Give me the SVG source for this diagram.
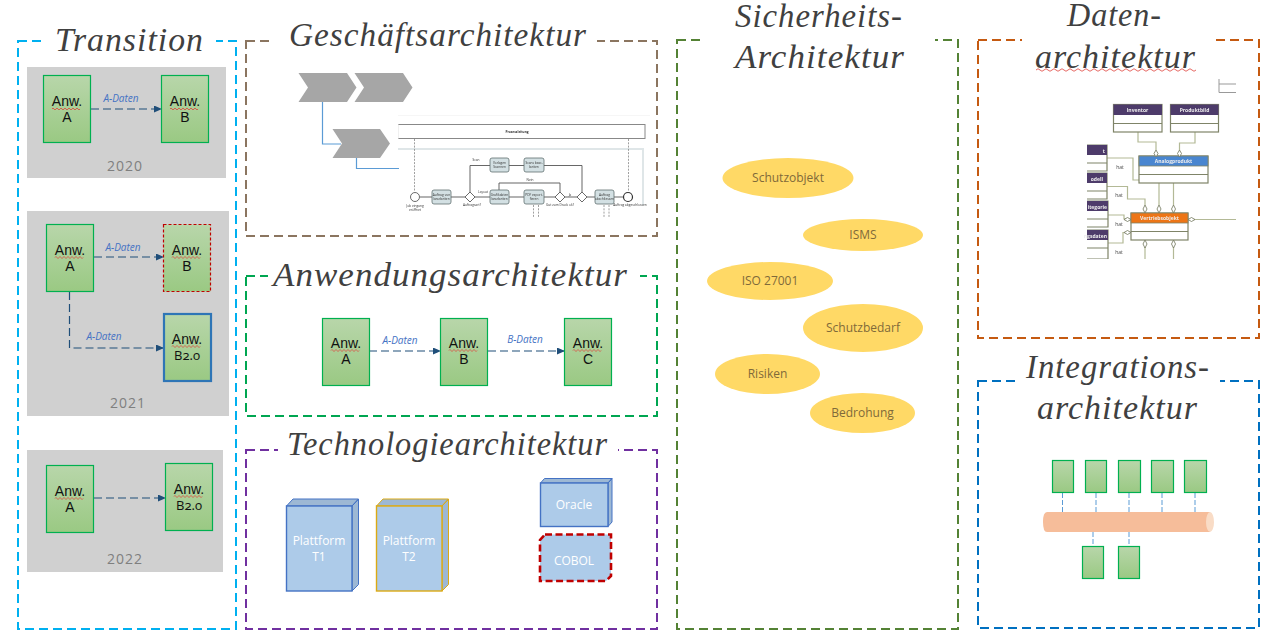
<svg xmlns="http://www.w3.org/2000/svg" width="1282" height="641" viewBox="0 0 1282 641">
<style>
.t{font-family:"Liberation Serif",serif;font-style:italic;font-size:33px;fill:#404040;letter-spacing:1px}
.f{fill:none;stroke-width:2;stroke-dasharray:9 5}
.g{fill:#d0d0d0}
.a{fill:url(#gr);stroke:#00b050;stroke-width:1.2}
.n{font-family:"Liberation Sans",Arial,sans-serif;font-size:14px;fill:#111;text-anchor:middle}
.o{font-family:"Open Sans",sans-serif;font-size:13px;fill:#111;text-anchor:middle;font-feature-settings:"onum"}
.y{font-family:"Open Sans",sans-serif;font-size:14px;fill:#7f7f7f;text-anchor:middle;letter-spacing:1px}
.l{font-family:"Open Sans",sans-serif;font-size:10px;font-style:italic;fill:#4472c4;text-anchor:middle}
.c{fill:none;stroke:#1f4e79;stroke-width:1.2;stroke-dasharray:8 4}
.w{fill:none;stroke:#e0403a;stroke-width:.8}
.e{fill:#ffd966}
.et{font-family:"Open Sans",sans-serif;font-size:12px;fill:#7f6a3a;text-anchor:middle}
.p{fill:#adcbe9;stroke:#4472c4;stroke-width:1.4}
.p2{fill:#adcbe9;stroke:#dcaa14;stroke-width:1.4}
.ps{fill:#9db8d4;stroke:#4472c4;stroke-width:1}
.ps2{fill:#9db8d4;stroke:#dcaa14;stroke-width:1}
.pt{font-family:"Open Sans",sans-serif;font-size:12px;fill:#fff;text-anchor:middle}
.ch{fill:#a6a6a6}
.bl{fill:none;stroke:#5b9bd5;stroke-width:1.2}
.pr{fill:none;stroke:#555;stroke-width:.9}
.ta{fill:#d3e0e3;stroke:#607070;stroke-width:.8}
.tx{font-family:"Open Sans",sans-serif;font-size:3.2px;fill:#333;text-anchor:middle}
.d{fill:none;stroke:#777;stroke-width:.7;stroke-dasharray:2 1.3}
.gw{fill:#fff;stroke:#444;stroke-width:.8}
.tb{fill:#fff;stroke:#7f8468;stroke-width:1.2}
.cn{fill:none;stroke:#b3b996;stroke-width:1.2}
.di{fill:#fff;stroke:#6f7459;stroke-width:.8}
.ht{font-family:"Open Sans",sans-serif;font-size:5px;fill:#444;text-anchor:middle}
.hw{font-family:"Open Sans",sans-serif;font-size:5px;font-weight:bold;fill:#eee;text-anchor:middle}
.hd{fill:#4e3b6b}
.ib{stroke:#5b9bd5;stroke-width:1;stroke-dasharray:5 2;fill:none}
</style>
<defs>
<linearGradient id="gr" x1="0" y1="0" x2="0" y2="1"><stop offset="0" stop-color="#b8d6aa"/><stop offset="1" stop-color="#9ac983"/></linearGradient>
<marker id="ar" markerWidth="8" markerHeight="8" refX="7" refY="3.5" orient="auto" markerUnits="userSpaceOnUse"><path d="M0 0L8 3.5L0 7z" fill="#1f4e79"/></marker>
<path id="sq" class="w" d="M0 0q1 -2 2 0t2 0t2 0t2 0t2 0t2 0t2 0t2 0t2 0t2 0t2 0t2 0t2 0t2 0"/>
<filter id="bl" x="0" y="0" width="1" height="1"><feGaussianBlur stdDeviation="0.25"/></filter>
</defs>
<rect width="1282" height="641" fill="#fff"/>

<g id="frames">
<rect class="f" x="18" y="41" width="218" height="588" stroke="#00b0f0"/>
<rect class="f" x="246" y="41" width="411" height="195" stroke="#8b7560"/>
<rect class="f" x="246" y="276" width="411" height="140" stroke="#00a651"/>
<rect class="f" x="246" y="450" width="411" height="179" stroke="#7030a0"/>
<rect class="f" x="677" y="40" width="281" height="589" stroke="#548235"/>
<rect class="f" x="978" y="40" width="281" height="298" stroke="#c55a11"/>
<rect class="f" x="978" y="381" width="281" height="247" stroke="#0070c0"/>
<g fill="#fff">
<rect x="44" y="36" width="172" height="10"/><rect x="272" y="36" width="325" height="10"/><rect x="268" y="271" width="372" height="10"/><rect x="278" y="445" width="340" height="10"/><rect x="705" y="35" width="230" height="10"/><rect x="1022" y="35" width="190" height="10"/><rect x="1015" y="376" width="205" height="10"/>
</g>
</g>

<g id="titles">
<text class="t" x="55" y="51" textLength="149" lengthAdjust="spacingAndGlyphs">Transition</text>
<text class="t" x="289" y="46" textLength="298" lengthAdjust="spacingAndGlyphs">Geschäftsarchitektur</text>
<text class="t" x="273" y="286" textLength="355" lengthAdjust="spacingAndGlyphs">Anwendungsarchitektur</text>
<text class="t" x="287" y="455" textLength="321" lengthAdjust="spacingAndGlyphs">Technologiearchitektur</text>
<text class="t" x="735" y="27" textLength="168" lengthAdjust="spacingAndGlyphs">Sicherheits-</text>
<text class="t" x="735" y="68" textLength="170" lengthAdjust="spacingAndGlyphs">Architektur</text>
<text class="t" x="1067" y="26" textLength="95" lengthAdjust="spacingAndGlyphs">Daten-</text>
<text class="t" x="1035" y="68" textLength="161" lengthAdjust="spacingAndGlyphs">architektur</text>
<path class="w" d="M1036 70q2 -2.5 4 0t4 0t4 0t4 0t4 0t4 0t4 0t4 0t4 0t4 0t4 0t4 0t4 0t4 0t4 0t4 0t4 0t4 0t4 0t4 0t4 0t4 0t4 0t4 0t4 0t4 0t4 0t4 0t4 0t4 0t4 0t4 0t4 0t4 0t4 0t4 0t4 0t4 0t4 0t4 0"/>
<text class="t" x="1026" y="378" textLength="184" lengthAdjust="spacingAndGlyphs">Integrations-</text>
<text class="t" x="1037" y="419" textLength="161" lengthAdjust="spacingAndGlyphs">architektur</text>
</g>

<g id="panels">
<rect class="g" x="27" y="67" width="199" height="111"/>
<rect class="g" x="27" y="211" width="202" height="205"/>
<rect class="g" x="27" y="450" width="196" height="122"/>
<text class="y" x="125" y="171">2020</text>
<text class="y" x="128" y="408">2021</text>
<text class="y" x="125" y="564">2022</text>
</g>

<g id="connectors">
<path class="c" marker-end="url(#ar)" d="M91 109H161"/>
<path class="c" marker-end="url(#ar)" d="M94 257H163"/>
<path class="c" marker-end="url(#ar)" d="M69.500 292V348H163"/>
<path class="c" marker-end="url(#ar)" d="M94 498H165"/>
<path class="c" marker-end="url(#ar)" d="M369 351H440"/>
<path class="c" marker-end="url(#ar)" d="M488 351H564"/>
<text class="l" x="121" y="102">A-Daten</text>
<text class="l" x="123" y="251">A-Daten</text>
<text class="l" x="104" y="340">A-Daten</text>
<text class="l" x="400" y="344">A-Daten</text>
<text class="l" x="525" y="343">B-Daten</text>
</g>

<g id="t2020a"><rect class="a" x="43.500" y="75.500" width="47" height="67"/><text class="n" x="67" y="106">Anw.</text><use href="#sq" x="52" y="109"/><text class="n" x="67" y="122">A</text></g>
<g id="t2020b"><rect class="a" x="161.500" y="75.500" width="47" height="67"/><text class="n" x="185" y="106">Anw.</text><use href="#sq" x="170" y="109"/><text class="n" x="185" y="122">B</text></g>
<g id="t2021a"><rect class="a" x="46.500" y="224.500" width="47" height="67"/><text class="n" x="70" y="255">Anw.</text><use href="#sq" x="55" y="257.500"/><text class="n" x="70" y="271">A</text></g>
<g id="t2021b"><rect class="a" x="163.500" y="224.500" width="47" height="67" style="stroke:#c00000;stroke-dasharray:3 2"/><text class="n" x="187" y="255">Anw.</text><use href="#sq" x="172" y="257.500"/><text class="n" x="187" y="271">B</text></g>
<g id="t2021c"><rect class="a" x="164" y="314" width="47" height="67" style="stroke:#2e75b6;stroke-width:2.200"/><text class="n" x="187" y="344">Anw.</text><use href="#sq" x="172" y="346.500"/><text class="o" x="187" y="360">B2.0</text></g>
<g id="t2022a"><rect class="a" x="46.500" y="465.500" width="47" height="67"/><text class="n" x="70" y="496">Anw.</text><use href="#sq" x="55" y="498.500"/><text class="n" x="70" y="512">A</text></g>
<g id="t2022b"><rect class="a" x="165.500" y="463.500" width="47" height="67"/><text class="n" x="189" y="494">Anw.</text><use href="#sq" x="174" y="496.500"/><text class="o" x="189" y="510">B2.0</text></g>

<g id="appA"><rect class="a" x="322.500" y="318.500" width="47" height="67"/><text class="n" x="346" y="348">Anw.</text><use href="#sq" x="331" y="350.500"/><text class="n" x="346" y="364">A</text></g>
<g id="appB"><rect class="a" x="440.500" y="318.500" width="47" height="67"/><text class="n" x="464" y="348">Anw.</text><use href="#sq" x="449" y="350.500"/><text class="n" x="464" y="364">B</text></g>
<g id="appC"><rect class="a" x="564.500" y="318.500" width="47" height="67"/><text class="n" x="588" y="348">Anw.</text><use href="#sq" x="573" y="350.500"/><text class="n" x="588" y="364">C</text></g>

<g id="business">
<path class="bl" d="M322.500 102V144H341"/>
<path class="bl" d="M356.500 158V168.500H399"/>
<path class="ch" d="M298.500 73H347L356.500 87.500L347 102H298.500L308 87.500z"/>
<path class="ch" d="M354.500 73H403L412.500 87.500L403 102H354.500L364 87.500z"/>
<path class="ch" d="M332.500 129H380L390 143.500L380 158H332.500L342 143.500z"/>
</g>

<g id="process" filter="url(#bl)">
<path d="M398 115H650" stroke="#eee" fill="none"/>
<rect x="398" y="124.500" width="247" height="14" fill="#fff" stroke="#888" stroke-width="1"/>
<path d="M398 124.500V138.500" stroke="#fff" stroke-width="1.500"/>
<text class="tx" x="517" y="133" style="font-weight:bold">Prozessleitung</text>
<path d="M398 149H643V205" fill="none" stroke="#dfe6e8" stroke-width="2"/>
<path class="d" d="M414.500 139V191M628.500 139V191M533.500 205V218M538.500 205V218M604 205V218M609 205V218"/>
<path class="pr" d="M420 197H432M451 197H465M475 197H490M509 197H524M544 197H555M565 197H577M587 197H595M614 197H623M470 192V165.500H490M509 165.500H524M544 165.500H582V192M560 192V183H499V190"/>
<circle class="gw" cx="415" cy="197" r="4.500"/>
<circle cx="628" cy="197" r="4.500" fill="#fff" stroke="#333" stroke-width="1.200"/>
<g class="ta"><rect x="432" y="190" width="19" height="14" rx="2"/><rect x="490" y="158" width="19" height="14" rx="2"/><rect x="524" y="158" width="20" height="14" rx="2"/><rect x="490" y="190" width="19" height="14" rx="2"/><rect x="524" y="190" width="20" height="14" rx="2"/><rect x="595" y="190" width="19" height="14" rx="2"/></g>
<path class="gw" d="M470 192l5 5l-5 5l-5 -5zM560 192l5 5l-5 5l-5 -5zM582 192l5 5l-5 5l-5 -5z"/>
<g class="tx">
<text x="441.500" y="196">Auftrag von</text><text x="441.500" y="200">bearbeiten</text>
<text x="499.500" y="164">Vorlagen</text><text x="499.500" y="168">Scannen</text>
<text x="534" y="164">Scans bear-</text><text x="534" y="168">beiten</text>
<text x="499.500" y="196">Grafikdaten</text><text x="499.500" y="200">bearbeiten</text>
<text x="534" y="196">PDF export.</text><text x="534" y="200">fieren</text>
<text x="604.500" y="196">Auftrag</text><text x="604.500" y="200">abschliessen</text>
<text x="415" y="207">Job eingang</text><text x="415" y="211">eröffnet</text>
<text x="472" y="206">Auftragsart?</text><text x="560" y="206">Gut zum Druck ok?</text><text x="630" y="206">Auftrag abgeschlossen</text>
<text x="476" y="161">Scan</text><text x="483" y="193">Layout</text><text x="530" y="181">Nein</text><text x="570" y="196">Ja</text>
</g>
</g>

<g id="tech-t1"><path class="ps" d="M286.500 506L293 499H358.500L352 506zM352 506L358.500 499V584.500L352 591z"/><rect class="p" x="286.500" y="506" width="65.500" height="85"/><text class="pt" x="319" y="545">Plattform</text><text class="pt" x="319" y="561">T1</text></g>
<g id="tech-t2"><path class="ps2" d="M376.500 506L383 499H448.500L442 506zM442 506L448.500 499V584.500L442 591z"/><rect class="p2" x="376.500" y="506" width="65.500" height="85"/><text class="pt" x="409" y="545">Plattform</text><text class="pt" x="409" y="561">T2</text></g>
<g id="tech-oracle"><path class="ps" d="M540.500 483L544.500 478.500H612L608 483zM608 483L612 478.500V522L608 526.500z"/><rect class="p" x="540.500" y="483" width="67.500" height="43.500"/><text class="pt" x="574" y="509">Oracle</text></g>
<g id="tech-cobol"><path d="M545 534.500H611V576L606 581H540V540z" fill="#adcbe9" stroke="#c00000" stroke-width="2.600" stroke-dasharray="7 3.500"/><text class="pt" x="574" y="565">COBOL</text></g>

<g id="sec-1"><ellipse class="e" cx="788" cy="178" rx="65.500" ry="20"/><text class="et" x="788" y="182">Schutzobjekt</text></g>
<g id="sec-2"><ellipse class="e" cx="863" cy="235" rx="60" ry="16"/><text class="et" x="863" y="239">ISMS</text></g>
<g id="sec-3"><ellipse class="e" cx="770" cy="281" rx="63" ry="19"/><text class="et" x="770" y="285">ISO 27001</text></g>
<g id="sec-4"><ellipse class="e" cx="863" cy="328" rx="60" ry="24"/><text class="et" x="863" y="332">Schutzbedarf</text></g>
<g id="sec-5"><ellipse class="e" cx="767.500" cy="374" rx="52.500" ry="20"/><text class="et" x="767.500" y="378">Risiken</text></g>
<g id="sec-6"><ellipse class="e" cx="862.500" cy="413" rx="52.500" ry="20"/><text class="et" x="862.500" y="417">Bedrohung</text></g>

<g id="datamodel" filter="url(#bl)">
<path class="cn" d="M1138 132V142H1156V150M1195 132V143H1179.500V150M1173.500 183V205M1107 158H1133V180H1159V205M1107 186.500H1127.500V199H1145V205M1108 215H1124V219H1128M1108 243H1123V232.500H1128M1191 219.500H1236M1145 247V259M1173.500 247V259"/>
<path d="M1219 79V92.500H1236M1219 84H1236" fill="none" stroke="#999"/>
<g><rect class="tb" x="1113.500" y="104.500" width="48.500" height="27.500"/><rect class="hd" x="1113.500" y="104.500" width="48.500" height="10.500"/><path class="tb" d="M1113.500 123.500H1162"/><text class="hw" x="1137.500" y="112">Inventor</text></g>
<g><rect class="tb" x="1170.500" y="104.500" width="48" height="27.500"/><rect class="hd" x="1170.500" y="104.500" width="48" height="10.500"/><path class="tb" d="M1170.500 123.500H1218.500"/><text class="hw" x="1194.500" y="112">Produktbild</text></g>
<g><rect class="tb" x="1139" y="156" width="69" height="27"/><rect x="1139" y="156" width="69" height="10" fill="#4a86d0" stroke="#7f8468" stroke-width=".8"/><path class="tb" d="M1139 174.500H1208"/><text class="hw" x="1173.500" y="163">Analogprodukt</text></g>
<g><rect class="tb" x="1131" y="213" width="57" height="27"/><rect x="1131" y="213" width="57" height="10" fill="#ed7417" stroke="#7f8468" stroke-width=".8"/><path class="tb" d="M1131 231.500H1188"/><text class="hw" x="1159.500" y="220">Vertriebsobjekt</text></g>
<g>
<path class="tb" d="M1087 145H1107V171H1087M1087 163H1107M1087 173H1107V199H1087M1087 191H1107M1087 201H1108V227H1087M1087 219H1108M1087 230H1108V259H1087M1087 248H1108"/>
<rect class="hd" x="1087" y="145" width="20" height="10"/><rect class="hd" x="1087" y="173" width="20" height="10"/><rect class="hd" x="1087" y="201" width="21" height="10"/><rect class="hd" x="1087" y="230" width="21" height="10"/>
<text class="hw" x="1103" y="181" style="text-anchor:end">odell</text><text class="hw" x="1107" y="209" style="text-anchor:end">itegorie</text><text class="hw" x="1107" y="238" style="text-anchor:end">ngsdaten</text><text class="hw" x="1105" y="153" style="text-anchor:end">t</text>
</g>
<path class="di" d="M1156 150l2 3.500l-2 3.500l-2 -3.500zM1179.500 150l2 3.500l-2 3.500l-2 -3.500zM1145 205l2 4l-2 4l-2 -4zM1159 205l2 4l-2 4l-2 -4zM1173.500 205l2 4l-2 4l-2 -4zM1145 240l2 4l-2 4l-2 -4zM1173.500 240l2 4l-2 4l-2 -4zM1124 219.500l3.500 -2l3.500 2l-3.500 2zM1124 232.500l3.500 -2l3.500 2l-3.500 2zM1188 219.500l3.500 -2l3.500 2l-3.500 2z"/>
<text class="ht" x="1120" y="169">hat</text><text class="ht" x="1119" y="197">hat</text><text class="ht" x="1119" y="226">hat</text><text class="ht" x="1119" y="254">hat</text>
</g>

<g id="integration-links"><path class="ib" d="M1062.500 493V512M1096 493V512M1129 493V512M1162 493V512M1195 493V512M1093 532V546M1129 532V546"/></g>
<g id="bus"><path d="M1047 512H1210V532H1047Q1043 532 1043 522Q1043 512 1047 512z" fill="#f6bd9a"/><ellipse cx="1210" cy="522" rx="4" ry="10" fill="#f9dcc6"/></g>
<g id="int-1"><rect class="a" x="1052.500" y="460.500" width="21" height="32"/></g>
<g id="int-2"><rect class="a" x="1085.500" y="460.500" width="21" height="32"/></g>
<g id="int-3"><rect class="a" x="1118.500" y="460.500" width="22" height="32"/></g>
<g id="int-4"><rect class="a" x="1151.500" y="460.500" width="22" height="32"/></g>
<g id="int-5"><rect class="a" x="1184.500" y="460.500" width="22" height="32"/></g>
<g id="int-6"><rect class="a" x="1082.500" y="546.500" width="21" height="32"/></g>
<g id="int-7"><rect class="a" x="1118.500" y="546.500" width="21" height="32"/></g>
</svg>
